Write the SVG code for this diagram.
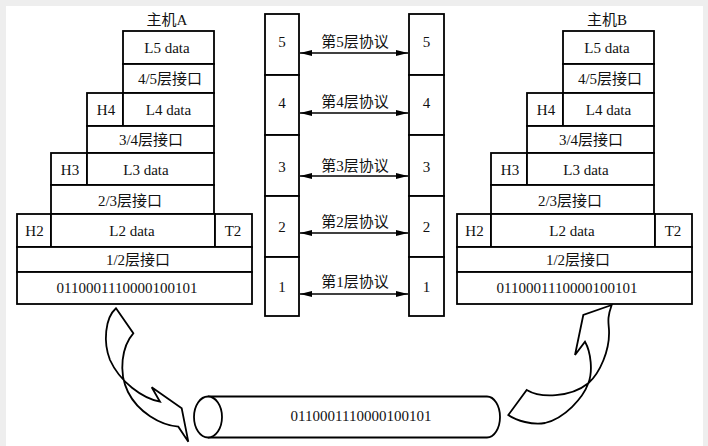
<svg xmlns="http://www.w3.org/2000/svg" width="708" height="446" viewBox="0 0 708 446">
<style>
.c{fill:#fff;stroke:#000;stroke-width:1.8}
.t{font-family:"Liberation Serif","Noto Sans CJK SC",serif;font-size:15px;fill:#111;text-anchor:middle}
.ln{stroke:#000;stroke-width:1.5;fill:none}
.arw{stroke:#000;stroke-width:1.8;fill:none;stroke-linejoin:miter}
</style>
<defs>
<marker id="ah" viewBox="0 0 12 6" refX="12" refY="3" markerWidth="12" markerHeight="6" markerUnits="userSpaceOnUse" orient="auto-start-reverse">
<path d="M0,0 L12,3 L0,6 Z" fill="#000"/>
</marker>
</defs>
<rect x="0" y="0" width="708" height="446" fill="#eeeeee"/>
<rect x="6" y="6" width="697" height="440" fill="#ffffff"/>

<g id="hostA">
<text class="t" x="167" y="25">主机A</text>
<g id="A-L5"><rect class="c" x="123" y="31" width="91" height="33"/><text class="t" x="167" y="53">L5 data</text></g>
<g id="A-if45"><rect class="c" x="123" y="64" width="91" height="29"/><text class="t" x="170" y="84">4/5层接口</text></g>
<g id="A-H4"><rect class="c" x="87" y="93" width="36" height="33"/><text class="t" x="106" y="115">H4</text></g>
<g id="A-L4"><rect class="c" x="123" y="93" width="91" height="33"/><text class="t" x="168.5" y="115">L4 data</text></g>
<g id="A-if34"><rect class="c" x="87" y="126" width="127" height="27"/><text class="t" x="151" y="145">3/4层接口</text></g>
<g id="A-H3"><rect class="c" x="51" y="153" width="36" height="32"/><text class="t" x="70" y="175">H3</text></g>
<g id="A-L3"><rect class="c" x="87" y="153" width="127" height="32"/><text class="t" x="146" y="175">L3 data</text></g>
<g id="A-if23"><rect class="c" x="51" y="185" width="163" height="29"/><text class="t" x="130" y="206">2/3层接口</text></g>
<g id="A-H2"><rect class="c" x="17" y="214" width="34" height="33"/><text class="t" x="34.5" y="236">H2</text></g>
<g id="A-L2"><rect class="c" x="51" y="214" width="164" height="33"/><text class="t" x="132" y="236">L2 data</text></g>
<g id="A-T2"><rect class="c" x="215" y="214" width="37" height="33"/><text class="t" x="233" y="236">T2</text></g>
<g id="A-if12"><rect class="c" x="17" y="247" width="235" height="25"/><text class="t" x="138" y="265">1/2层接口</text></g>
<g id="A-bits"><rect class="c" x="17" y="272" width="235" height="32"/><text class="t" x="127" y="293">0110001110000100101</text></g>
</g>

<g id="hostB" transform="translate(440,0)">
<text class="t" x="167" y="25">主机B</text>
<g id="B-L5"><rect class="c" x="123" y="31" width="91" height="33"/><text class="t" x="167" y="53">L5 data</text></g>
<g id="B-if45"><rect class="c" x="123" y="64" width="91" height="29"/><text class="t" x="170" y="84">4/5层接口</text></g>
<g id="B-H4"><rect class="c" x="87" y="93" width="36" height="33"/><text class="t" x="106" y="115">H4</text></g>
<g id="B-L4"><rect class="c" x="123" y="93" width="91" height="33"/><text class="t" x="168.5" y="115">L4 data</text></g>
<g id="B-if34"><rect class="c" x="87" y="126" width="127" height="27"/><text class="t" x="151" y="145">3/4层接口</text></g>
<g id="B-H3"><rect class="c" x="51" y="153" width="36" height="32"/><text class="t" x="70" y="175">H3</text></g>
<g id="B-L3"><rect class="c" x="87" y="153" width="127" height="32"/><text class="t" x="146" y="175">L3 data</text></g>
<g id="B-if23"><rect class="c" x="51" y="185" width="163" height="29"/><text class="t" x="130" y="206">2/3层接口</text></g>
<g id="B-H2"><rect class="c" x="17" y="214" width="34" height="33"/><text class="t" x="34.5" y="236">H2</text></g>
<g id="B-L2"><rect class="c" x="51" y="214" width="164" height="33"/><text class="t" x="132" y="236">L2 data</text></g>
<g id="B-T2"><rect class="c" x="215" y="214" width="37" height="33"/><text class="t" x="233" y="236">T2</text></g>
<g id="B-if12"><rect class="c" x="17" y="247" width="235" height="25"/><text class="t" x="138" y="265">1/2层接口</text></g>
<g id="B-bits"><rect class="c" x="17" y="272" width="235" height="32"/><text class="t" x="127" y="293">0110001110000100101</text></g>
</g>

<g id="peerA">
<g id="pa5"><rect class="c" x="265" y="14" width="34" height="61"/><text class="t" x="282" y="47">5</text></g>
<g id="pa4"><rect class="c" x="265" y="75" width="34" height="60"/><text class="t" x="282" y="108">4</text></g>
<g id="pa3"><rect class="c" x="265" y="135" width="34" height="61"/><text class="t" x="282" y="172">3</text></g>
<g id="pa2"><rect class="c" x="265" y="196" width="34" height="61"/><text class="t" x="282" y="232">2</text></g>
<g id="pa1"><rect class="c" x="265" y="257" width="34" height="59"/><text class="t" x="282" y="292">1</text></g>
</g>
<g id="peerB">
<g id="pb5"><rect class="c" x="409" y="14" width="35" height="61"/><text class="t" x="426.5" y="47">5</text></g>
<g id="pb4"><rect class="c" x="409" y="75" width="35" height="60"/><text class="t" x="426.5" y="108">4</text></g>
<g id="pb3"><rect class="c" x="409" y="135" width="35" height="61"/><text class="t" x="426.5" y="172">3</text></g>
<g id="pb2"><rect class="c" x="409" y="196" width="35" height="61"/><text class="t" x="426.5" y="232">2</text></g>
<g id="pb1"><rect class="c" x="409" y="257" width="35" height="59"/><text class="t" x="426.5" y="292">1</text></g>
</g>

<g id="cable">
<path class="c" d="M208,396.5 L487,396.5 A13,20.5 0 0 1 487,437.5 L208,437.5"/>
<ellipse class="c" cx="208" cy="417" rx="14" ry="20.5"/>
<text class="t" x="361" y="421">0110001110000100101</text>
</g>

<g id="connectors">
<line class="ln" x1="300" y1="53" x2="408" y2="53" marker-start="url(#ah)" marker-end="url(#ah)"/>
<line class="ln" x1="300" y1="113" x2="408" y2="113" marker-start="url(#ah)" marker-end="url(#ah)"/>
<line class="ln" x1="300" y1="176" x2="408" y2="176" marker-start="url(#ah)" marker-end="url(#ah)"/>
<line class="ln" x1="300" y1="233" x2="408" y2="233" marker-start="url(#ah)" marker-end="url(#ah)"/>
<line class="ln" x1="300" y1="294" x2="408" y2="294" marker-start="url(#ah)" marker-end="url(#ah)"/>
<text class="t" x="355" y="47">第5层协议</text>
<text class="t" x="355" y="107">第4层协议</text>
<text class="t" x="355" y="171">第3层协议</text>
<text class="t" x="355" y="227">第2层协议</text>
<text class="t" x="355" y="287">第1层协议</text>
<path class="arw" d="M116,308.3 L133.3,333.3 C122,346 118,372 128,392 C138,412 160,425 178.3,426.7 L188.3,441.7 L181.7,408.3 L151.7,387.3 L160,401.7 C142,398 120,382 110,360 C103,342 105,318 116,308.3 Z"/>
<path class="arw" d="M611.7,305 L583.3,315 L575,355 L585,341.7 C591,352 593,372 588.3,383.3 C583,398 565,418 545,423 C532,425 517,421 508.3,415 L526.7,390 C540,398 570,398 588.3,383.3 C600,373 610,350 609,330 C608.5,322 607,318 611.7,305 Z"/>
</g>
</svg>
